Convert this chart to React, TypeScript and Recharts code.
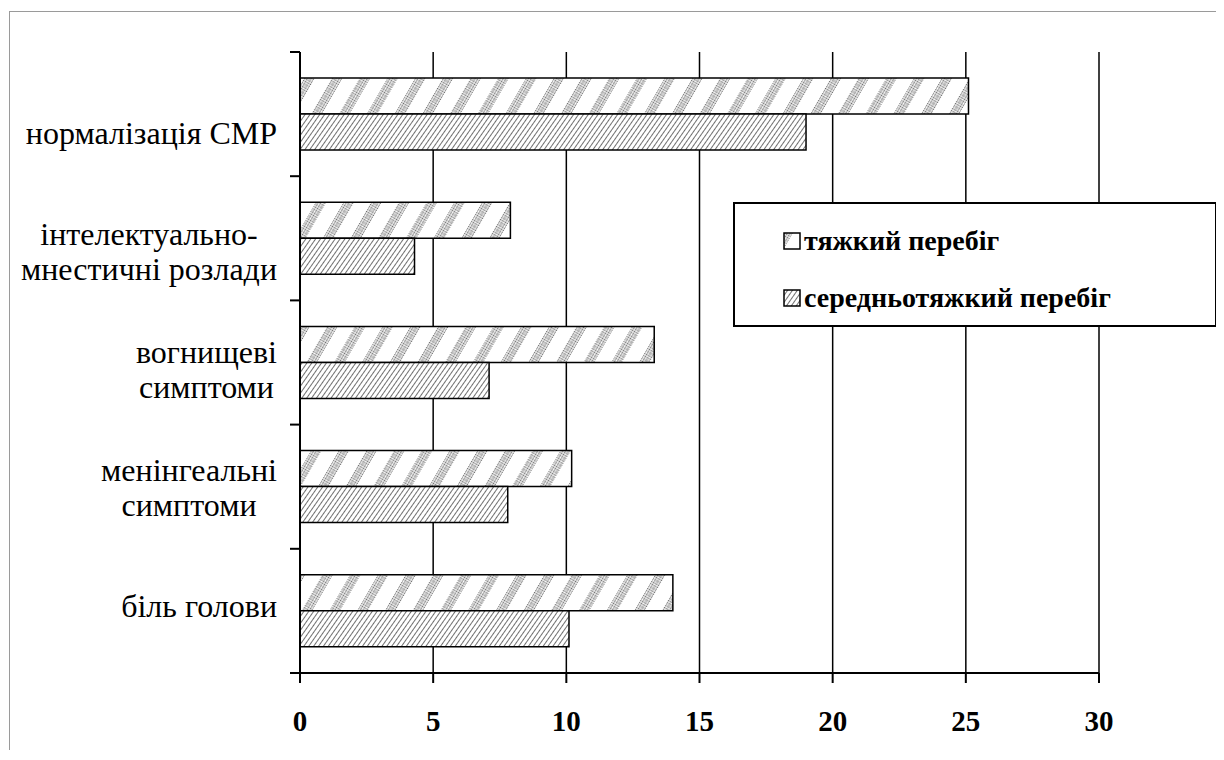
import { BarChart, Bar, XAxis, YAxis, CartesianGrid, Legend } from 'recharts'

// categories top to bottom, '\n' marks the label line break
const categories = [
  'нормалізація СМР',
  'інтелектуально-\nмнестичні розлади',
  'вогнищеві\nсимптоми',
  'менінгеальні\nсимптоми',
  'біль голови'
]
const severe = [25.1, 7.9, 13.3, 10.2, 14.0]
const moderate = [19.0, 4.3, 7.1, 7.8, 10.1]
const xTicks = [0, 5, 10, 15, 20, 25, 30]
const seriesNames = ['тяжкий перебіг', 'середньотяжкий перебіг']

const data = categories.map((name, i) => ({
  name,
  severe: severe[i],
  moderate: moderate[i]
}))

const SERIF = "'Liberation Serif', 'DejaVu Serif', serif"
const LABEL_SIZE = 32

let ctx: CanvasRenderingContext2D | null = null
function textWidth(s: string) {
  if (!ctx) ctx = document.createElement('canvas').getContext('2d')
  if (!ctx) return s.length * LABEL_SIZE * 0.5
  ctx.font = `${LABEL_SIZE}px ${SERIF}`
  return ctx.measureText(s).width
}

function CategoryTick({ x, y, payload, index, visibleTicksCount }: any) {
  const lines = String(payload.value).split('\n')
  const blockW = Math.max(...lines.map(textWidth))
  const cx = x - 13 - blockW / 2
  const lh = 35
  // labels sit a little tighter together than the bands, like the original
  const mid = y + 7 + (2 - index) * 6
  const top = mid - ((lines.length - 1) * lh) / 2
  const half = payload.offset || 62
  return (
    <g>
      <line x1={x} x2={x + 10} y1={y - half} y2={y - half} stroke="#000" strokeWidth={2} />
      {index === visibleTicksCount - 1 && (
        <line x1={x} x2={x + 10} y1={y + half} y2={y + half} stroke="#000" strokeWidth={2} />
      )}
      <text
        textAnchor="middle"
        dominantBaseline="central"
        fontFamily={SERIF}
        fontSize={LABEL_SIZE}
        fill="#000">
        {lines.map((l, i) => (
          <tspan key={i} x={cx} y={top + i * lh}>
            {l}
          </tspan>
        ))}
      </text>
    </g>
  )
}

function ValueTick({ x, y, payload }: any) {
  return (
    <text
      x={x}
      y={y + 38}
      textAnchor="middle"
      dominantBaseline="central"
      fontFamily={SERIF}
      fontWeight="bold"
      fontSize={29}
      fill="#000">
      {payload.value}
    </text>
  )
}

function LegendBox() {
  const fills = ['url(#wideStripe)', 'url(#fineHatch)']
  return (
    <div
      style={{
        boxSizing: 'border-box',
        width: '100%',
        height: '100%',
        border: '2px solid #000',
        background: '#fff',
        paddingTop: 8,
        paddingLeft: 48
      }}>
      {seriesNames.map((name, i) => (
        <div
          key={name}
          style={{
            display: 'flex',
            alignItems: 'center',
            height: 57,
            fontFamily: SERIF,
            fontWeight: 'bold',
            fontSize: 28,
            color: '#000'
          }}>
          <svg width={18} height={18} style={{ marginRight: 3 }}>
            <rect x={1} y={1} width={16} height={16} fill={fills[i]} stroke="#000" strokeWidth={1.5} />
          </svg>
          {name}
        </div>
      ))}
    </div>
  )
}

export default function App() {
  return (
    <div
      style={{
        marginLeft: 1,
        marginTop: 3,
        borderLeft: '1px solid #9a9a9a',
        borderTop: '1px solid #9a9a9a',
        width: 1212,
        height: 738
      }}>
      <BarChart
        width={1212}
        height={738}
        data={data}
        layout="vertical"
        barGap={0}
        barSize={36}
        margin={{ top: 40, right: 123, bottom: 17, left: 10 }}>
        <defs>
          <pattern id="dots" width={2} height={2} patternUnits="userSpaceOnUse">
            <rect width={2} height={2} fill="#fff" />
            <rect width={1} height={1} fill="#6a6a6a" />
            <rect x={1} y={1} width={1} height={1} fill="#b0b0b0" />
          </pattern>
          <pattern
            id="wideStripe"
            width={24}
            height={24}
            patternUnits="userSpaceOnUse"
            patternTransform="rotate(30)">
            <rect width={24} height={24} fill="#fff" />
            <rect width={9} height={24} fill="url(#dots)" />
          </pattern>
          <pattern
            id="fineHatch"
            width={4}
            height={4}
            patternUnits="userSpaceOnUse"
            patternTransform="rotate(35)">
            <rect width={4} height={4} fill="#fff" />
            <rect width={1} height={4} fill="#707070" />
          </pattern>
        </defs>
        <CartesianGrid vertical horizontal={false} stroke="#000" strokeWidth={1.5} />
        <XAxis
          type="number"
          domain={[0, 30]}
          ticks={xTicks}
          interval={0}
          axisLine={{ stroke: '#000', strokeWidth: 2 }}
          tickLine={{ stroke: '#000', strokeWidth: 2 }}
          tickSize={10}
          tickMargin={0}
          height={60}
          tick={<ValueTick />}
        />
        <YAxis
          type="category"
          dataKey="name"
          width={280}
          interval={0}
          axisLine={{ stroke: '#000', strokeWidth: 2 }}
          tickLine={false}
          tickSize={10}
          tickMargin={0}
          tick={<CategoryTick />}
        />
        <Legend
          layout="horizontal"
          verticalAlign="middle"
          align="center"
          wrapperStyle={{ left: 723, top: 190, width: 484, height: 125 }}
          content={<LegendBox />}
        />
        <Bar
          dataKey="severe"
          name={seriesNames[0]}
          fill="url(#wideStripe)"
          stroke="#000"
          strokeWidth={1.5}
          isAnimationActive={false}
        />
        <Bar
          dataKey="moderate"
          name={seriesNames[1]}
          fill="url(#fineHatch)"
          stroke="#000"
          strokeWidth={1.5}
          isAnimationActive={false}
        />
      </BarChart>
    </div>
  )
}
